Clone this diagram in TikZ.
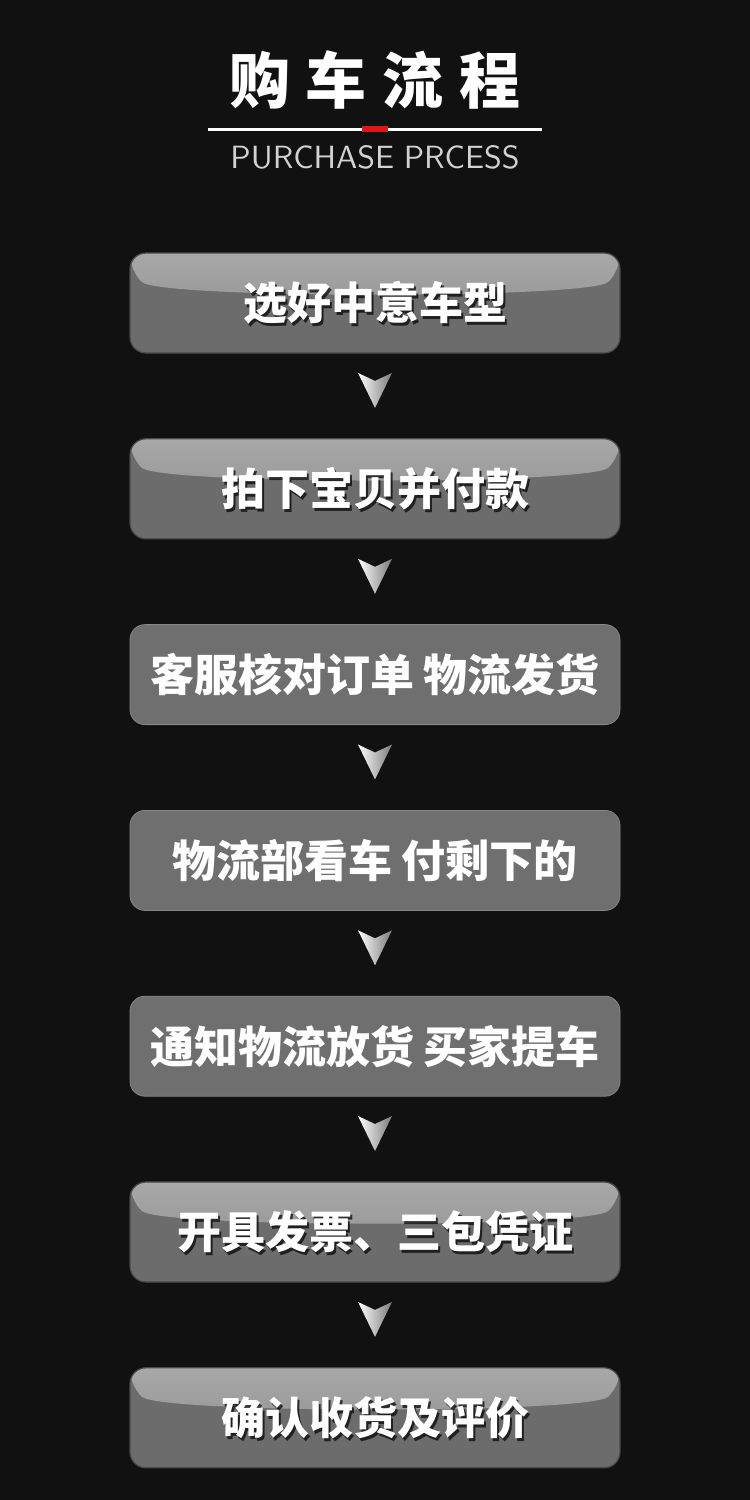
\documentclass[tikz,border=0pt]{standalone}
\usepackage{fontspec}
\usepackage{graphicx}
\newfontfamily\cjk{Noto Sans CJK SC}
\usetikzlibrary{calc}
\definecolor{bg}{HTML}{111111}
\definecolor{boxbody}{HTML}{6C6C6C}
\definecolor{flatbody}{HTML}{6F6F6F}
\definecolor{hitop}{HTML}{A8A8A8}
\definecolor{hibot}{HTML}{8A8A8A}
\definecolor{boxedge}{HTML}{4A4A4A}
\definecolor{subgray}{HTML}{D2D2D2}
\definecolor{linered}{HTML}{E0161B}
\definecolor{chevgray}{HTML}{7A7A7A}
\tikzset{
  stepbox/.style={minimum width=245pt, minimum height=50pt, rounded corners=8pt,
    inner sep=0pt, fill=boxbody, draw=boxedge, line width=0.6pt,
    path picture={\fill[top color=hitop, bottom color=hibot]
      ($(path picture bounding box.north west)+(0,18)$)
      .. controls +(30,28) and +(-30,28) ..
      ($(path picture bounding box.north east)+(0,18)$)
      |- (path picture bounding box.north west) -- cycle;}},
  flatbox/.style={minimum width=245pt, minimum height=50pt, rounded corners=7.5pt,
    inner sep=0pt, fill=flatbody, draw=flatbody!85!white, line width=0.4pt},
  boxtext/.style={font=\cjk\bfseries\fontsize{22pt}{25pt}\selectfont, text=white, inner sep=0pt},
  boxshadow/.style={boxtext, text=black, opacity=0.7},
  titletext/.style={font=\cjk\bfseries\fontsize{30.5pt}{34pt}\selectfont, text=white, inner sep=0pt},
  subtext/.style={font=\sffamily, text=subgray, inner sep=0pt},
  chev/.style={left color=white, right color=chevgray},
}
\newcommand\glossbox[3]{%
  \node[stepbox] (#1) at (375,#2) {};
  \node[boxshadow] at ($(#1.center)+(2,2.5)$) {#3};
  \node[boxtext] (#1t) at (#1.center) {#3};}
\newcommand\plainbox[3]{%
  \node[flatbox] (#1) at (375,#2) {};
  \node[boxtext] (#1t) at (#1.center) {#3};}
\newcommand\chevron[2]{%
  \coordinate (#1#2m) at ($(#1.south)!0.5!(#2.north)$);
  \fill[chev] ($(#1#2m)+(-17,-23)$) -- ($(#1#2m)+(0,-15)$) -- ($(#1#2m)+(17,-23)$) -- ($(#1#2m)+(0,12)$) -- cycle;}
\begin{document}
\begin{tikzpicture}[x=0.5pt,y=-0.5pt]
\fill[bg] (0,0) rectangle (750,1500);
\useasboundingbox (0,0) rectangle (750,1500);
% title
\node[titletext] (title) at (375,80) {购\hspace{8pt}车\hspace{8pt}流\hspace{8pt}程};
\coordinate (lineL) at (208,129);
\coordinate (lineR) at (542,129);
\coordinate (redL) at (362,129);
\coordinate (redR) at (388,129);
\draw[white, line width=1.5pt] (lineL) -- (lineR);
\draw[linered, line width=2.6pt] (redL) -- (redR);
\node[subtext] (sub) at (375,157.5) {\resizebox{144.5pt}{11.5pt}{PURCHASE\hspace{0.3em}PRCESS}};
% steps
\glossbox{b1}{303}{选好中意车型}
\glossbox{b2}{488.8}{拍下宝贝并付款}
\plainbox{b3}{674.6}{客服核对订单\hspace{0.22em}物流发货}
\plainbox{b4}{860.4}{物流部看车\hspace{0.22em}付剩下的}
\plainbox{b5}{1046.2}{通知物流放货\hspace{0.22em}买家提车}
\glossbox{b6}{1232}{开具发票、三包凭证}
\glossbox{b7}{1417.8}{确认收货及评价}
\chevron{b1}{b2}
\chevron{b2}{b3}
\chevron{b3}{b4}
\chevron{b4}{b5}
\chevron{b5}{b6}
\chevron{b6}{b7}
\end{tikzpicture}
\end{document}
